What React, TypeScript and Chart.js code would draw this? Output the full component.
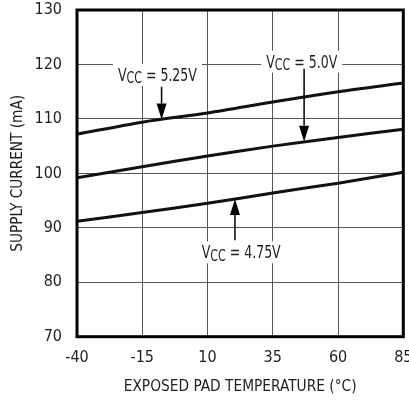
import React, { useEffect, useRef } from "react";
import { Chart, registerables } from "chart.js";

Chart.register(...registerables);

const temps = [-40, -15, 10, 35, 60, 85];
const vcc525 = [107.2, 109.4, 111.1, 113.1, 115.0, 116.6];
const vcc500 = [99.2, 101.2, 103.2, 105.0, 106.6, 108.1];
const vcc475 = [91.2, 92.8, 94.5, 96.4, 98.2, 100.2];

const xTicks = [-40, -15, 10, 35, 60, 85];
const yTicks = [70, 80, 90, 100, 110, 120, 130];

const labelValues = ["5.25V", "5.0V", "4.75V"];
const labelX = [-9.2, 46.1, 22.9];
const labelY = [118.1, 120.5, 85.5];
const arrowX = [-7.6, 47.0, 20.5];
const arrowFrom = [115.9, 119.2, 87.7];
const arrowTip = [109.9, 105.8, 95.3];

const FONT = "'Liberation Sans Narrow', 'DejaVu Sans Condensed', 'Arial Narrow', sans-serif";
const TEXT = "#1e1e1e";

const annotPlugin = {
  id: "annots",
  afterDraw(chart: any) {
    const { ctx, chartArea, scales } = chart;
    const xs = scales.x;
    const ys = scales.y;
    const sx = 0.82;
    ctx.save();
    for (let i = 0; i < labelValues.length; i++) {
      const ax = xs.getPixelForValue(arrowX[i]);
      const y0 = ys.getPixelForValue(arrowFrom[i]);
      const y1 = ys.getPixelForValue(arrowTip[i]);
      const cx = xs.getPixelForValue(labelX[i]);
      const cy = ys.getPixelForValue(labelY[i]);
      const big = `17px ${FONT}`;
      const small = `15px ${FONT}`;
      ctx.font = big;
      const wV = ctx.measureText("V").width;
      const wRest = ctx.measureText(" = " + labelValues[i]).width;
      ctx.font = small;
      const wCC = ctx.measureText("CC").width;
      const total = (wV + wCC + wRest) * sx;
      // white box
      ctx.fillStyle = "#fff";
      ctx.fillRect(cx - total / 2 - 5, cy - 11, total + 10, 22);
      // text (horizontally condensed)
      ctx.save();
      ctx.translate(cx - total / 2, cy + 6);
      ctx.scale(sx, 1);
      ctx.fillStyle = TEXT;
      ctx.textBaseline = "alphabetic";
      ctx.textAlign = "left";
      let tx = 0;
      ctx.font = big;
      ctx.fillText("V", tx, 0);
      tx += wV;
      ctx.font = small;
      ctx.fillText("CC", tx, 2.6);
      tx += wCC;
      ctx.font = big;
      ctx.fillText(" = " + labelValues[i], tx, 0);
      ctx.restore();
      // arrow
      const dir = y1 > y0 ? 1 : -1;
      const headLen = 16;
      const headHalf = 5;
      ctx.strokeStyle = "#000";
      ctx.fillStyle = "#000";
      ctx.lineWidth = 1.5;
      ctx.beginPath();
      ctx.moveTo(ax, y0);
      ctx.lineTo(ax, y1 - dir * headLen);
      ctx.stroke();
      ctx.beginPath();
      ctx.moveTo(ax, y1);
      ctx.lineTo(ax - headHalf, y1 - dir * headLen);
      ctx.lineTo(ax + headHalf, y1 - dir * headLen);
      ctx.closePath();
      ctx.fill();
    }
    // frame
    ctx.lineWidth = 3;
    ctx.strokeStyle = "#000";
    ctx.strokeRect(
      chartArea.left,
      chartArea.top,
      chartArea.right - chartArea.left,
      chartArea.bottom - chartArea.top
    );
    ctx.restore();
  },
};

export default function App() {
  const ref = useRef<HTMLCanvasElement>(null);
  useEffect(() => {
    if (!ref.current) return;
    const mk = (vals: number[]) => ({
      data: temps.map((t, i) => ({ x: t, y: vals[i] })),
      borderColor: "#111",
      borderWidth: 3,
      pointRadius: 0,
      tension: 0.3,
      fill: false,
    });
    const chart = new Chart(ref.current, {
      type: "line",
      data: { datasets: [mk(vcc525), mk(vcc500), mk(vcc475)] },
      options: {
        animation: false,
        responsive: false,
        layout: { padding: { left: 0, right: 21.7, top: 10, bottom: 0 } },
        plugins: { legend: { display: false }, tooltip: { enabled: false }, title: { display: false } },
        scales: {
          x: {
            type: "linear",
            min: xTicks[0],
            max: xTicks[xTicks.length - 1],
            afterBuildTicks: (s: any) => {
              s.ticks = xTicks.map((v) => ({ value: v }));
            },
            afterFit: (s: any) => {
              s.height = 63.3;
              s.paddingLeft = 0;
              s.paddingRight = 0;
            },
            grid: { color: "#555", lineWidth: 1, drawTicks: false },
            border: { display: false },
            ticks: { padding: 12, color: TEXT, font: { family: FONT, size: 16 }, maxRotation: 0, autoSkip: false },
            title: {
              display: true,
              text: "EXPOSED PAD TEMPERATURE (°C)",
              color: TEXT,
              font: { family: FONT, size: 15.3 },
              padding: { top: 0, bottom: 4 },
            },
          },
          y: {
            type: "linear",
            min: yTicks[0],
            max: yTicks[yTicks.length - 1],
            afterBuildTicks: (s: any) => {
              s.ticks = yTicks.map((v) => ({ value: v }));
            },
            afterFit: (s: any) => {
              s.width = 77;
              s.paddingTop = 0;
              s.paddingBottom = 0;
            },
            grid: { color: "#555", lineWidth: 1, drawTicks: false },
            border: { display: false },
            ticks: { padding: 15, color: TEXT, font: { family: FONT, size: 16 }, autoSkip: false },
            title: {
              display: true,
              text: "SUPPLY CURRENT (mA)",
              color: TEXT,
              font: { family: FONT, size: 15.2 },
              padding: { top: 9.3, bottom: 0 },
            },
          },
        },
      },
      plugins: [annotPlugin],
    });
    return () => chart.destroy();
  }, []);
  return (
    <div
      style={{
        position: "fixed",
        left: 0,
        top: 0,
        width: 409,
        height: 400,
        overflow: "hidden",
        background: "#fff",
      }}
    >
      <canvas ref={ref} width={425} height={400} style={{ display: "block", width: 425, height: 400 }} />
    </div>
  );
}
